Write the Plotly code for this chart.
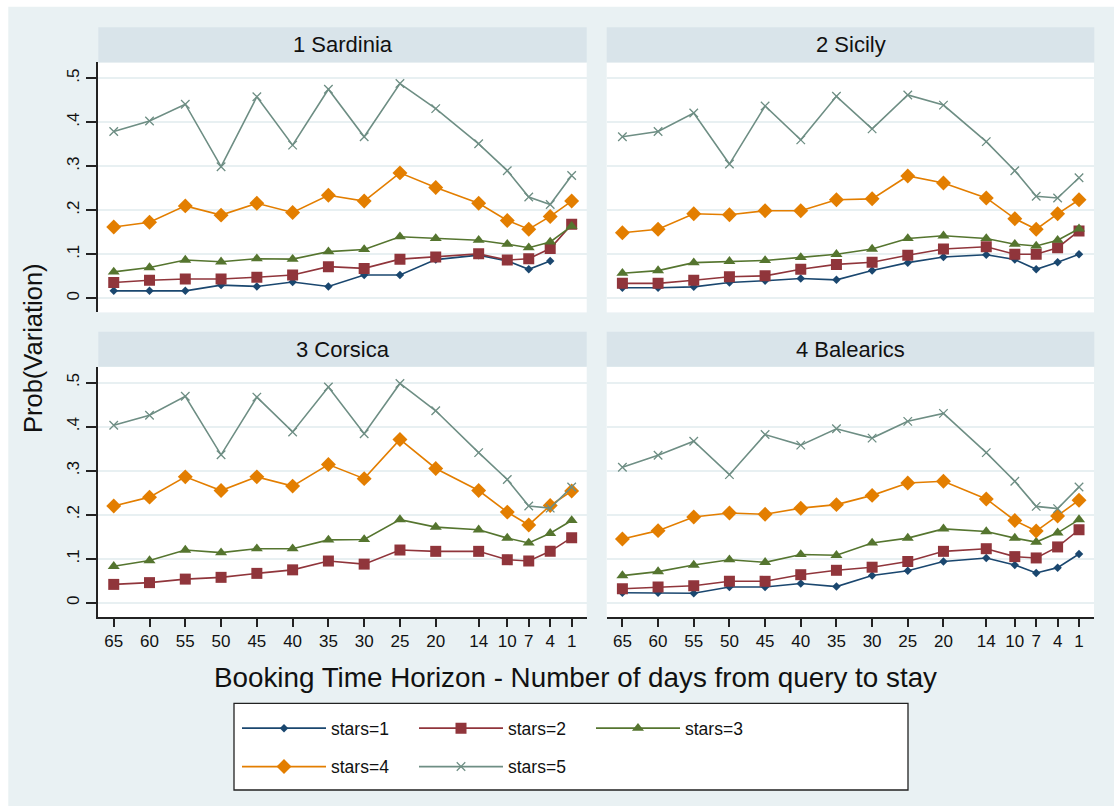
import plotly.graph_objects as go

# Booking horizon (days from query to stay) and panel titles
days = [65, 60, 55, 50, 45, 40, 35, 30, 25, 20, 14, 10, 7, 4, 1]
regions = ["1 Sardinia", "2 Sicily", "3 Corsica", "4 Balearics"]
star_labels = ["stars=1", "stars=2", "stars=3", "stars=4", "stars=5"]

# Predicted probability of a price variation, by star rating
sardinia_s1 = [0.017, 0.017, 0.017, 0.030, 0.027, 0.037, 0.027, 0.053, 0.053, 0.088, 0.098, 0.085, 0.066, 0.085, None]
sardinia_s2 = [0.036, 0.041, 0.044, 0.044, 0.048, 0.053, 0.072, 0.068, 0.089, 0.094, 0.101, 0.087, 0.090, 0.113, 0.168]
sardinia_s3 = [0.060, 0.070, 0.087, 0.083, 0.090, 0.089, 0.106, 0.111, 0.140, 0.136, 0.132, 0.123, 0.115, 0.128, 0.164]
sardinia_s4 = [0.162, 0.173, 0.210, 0.189, 0.216, 0.195, 0.234, 0.221, 0.285, 0.252, 0.216, 0.177, 0.157, 0.186, 0.221]
sardinia_s5 = [0.379, 0.403, 0.441, 0.299, 0.458, 0.348, 0.475, 0.367, 0.488, 0.431, 0.351, 0.290, 0.230, 0.213, 0.279]

sicily_s1 = [0.024, 0.024, 0.026, 0.036, 0.040, 0.045, 0.042, 0.063, 0.081, 0.094, 0.099, 0.088, 0.066, 0.082, 0.100]
sicily_s2 = [0.034, 0.034, 0.041, 0.049, 0.051, 0.066, 0.077, 0.082, 0.098, 0.112, 0.117, 0.100, 0.100, 0.115, 0.153]
sicily_s3 = [0.057, 0.063, 0.081, 0.084, 0.086, 0.093, 0.100, 0.112, 0.136, 0.142, 0.136, 0.123, 0.119, 0.132, 0.158]
sicily_s4 = [0.149, 0.157, 0.192, 0.190, 0.199, 0.199, 0.224, 0.226, 0.278, 0.262, 0.228, 0.181, 0.157, 0.192, 0.224]
sicily_s5 = [0.367, 0.379, 0.421, 0.305, 0.437, 0.360, 0.459, 0.385, 0.462, 0.439, 0.356, 0.290, 0.232, 0.228, 0.274]

corsica_s1 = None  # no 1-star observations
corsica_s2 = [0.042, 0.046, 0.054, 0.058, 0.067, 0.075, 0.095, 0.088, 0.120, 0.117, 0.117, 0.098, 0.095, 0.117, 0.148]
corsica_s3 = [0.083, 0.096, 0.120, 0.114, 0.123, 0.123, 0.143, 0.144, 0.189, 0.172, 0.166, 0.147, 0.136, 0.158, 0.187]
corsica_s4 = [0.220, 0.240, 0.286, 0.255, 0.286, 0.265, 0.314, 0.282, 0.371, 0.305, 0.255, 0.206, 0.177, 0.221, 0.254]
corsica_s5 = [0.403, 0.426, 0.469, 0.336, 0.467, 0.388, 0.490, 0.384, 0.498, 0.436, 0.341, 0.280, 0.220, 0.215, 0.263]

balearics_s1 = [0.023, 0.023, 0.022, 0.036, 0.036, 0.044, 0.037, 0.062, 0.073, 0.094, 0.102, 0.086, 0.068, 0.080, 0.111]
balearics_s2 = [0.032, 0.036, 0.039, 0.049, 0.049, 0.064, 0.074, 0.081, 0.094, 0.117, 0.123, 0.105, 0.102, 0.127, 0.166]
balearics_s3 = [0.062, 0.071, 0.086, 0.098, 0.092, 0.110, 0.108, 0.136, 0.147, 0.168, 0.162, 0.147, 0.138, 0.159, 0.189]
balearics_s4 = [0.145, 0.164, 0.195, 0.204, 0.201, 0.215, 0.223, 0.244, 0.272, 0.276, 0.236, 0.187, 0.163, 0.197, 0.233]
balearics_s5 = [0.308, 0.335, 0.367, 0.291, 0.382, 0.358, 0.395, 0.374, 0.412, 0.430, 0.341, 0.276, 0.219, 0.214, 0.263]

y_ticks = [0, 0.1, 0.2, 0.3, 0.4, 0.5]
y_ticktext = ["0", ".1", ".2", ".3", ".4", ".5"]

panels = [
    [sardinia_s1, sardinia_s2, sardinia_s3, sardinia_s4, sardinia_s5],
    [sicily_s1, sicily_s2, sicily_s3, sicily_s4, sicily_s5],
    [corsica_s1, corsica_s2, corsica_s3, corsica_s4, corsica_s5],
    [balearics_s1, balearics_s2, balearics_s3, balearics_s4, balearics_s5],
]

# Series styles (Stata s2color palette)
colors = ["#1a476f", "#90353b", "#55752f", "#e37e00", "#6e8e84"]
symbols = ["diamond", "square", "triangle-up", "diamond", "x-thin"]
sizes = [6.5, 11, 10.5, 11.5, 8.5]

FONT = "Arial, 'Liberation Sans', sans-serif"
W, H = 1114, 806
ML, MR, MT, MB = 98, 20, 27, 189
PW = W - ML - MR
PH = H - MT - MB


def fx(px):
    return (px - ML) / PW


def fy(py):
    return (H - MB - py) / PH


col_dom = [[0.0, fx(586.7)], [fx(606.7), 1.0]]
row_dom = [[fy(312.4), fy(62.4)], [0.0, fy(366.7)]]
header_top = [27.3, 331.7]
header_bot = [62.4, 366.7]
col_px = [(98.3, 586.7), (606.7, 1094.3)]

fig = go.Figure()

for p, series in enumerate(panels):
    ax = "" if p == 0 else str(p + 1)
    for s, vals in enumerate(series):
        if vals is None:
            continue
        marker = dict(symbol=symbols[s], size=sizes[s], color=colors[s])
        if symbols[s] == "x-thin":
            marker["line"] = dict(color=colors[s], width=1.3)
        fig.add_trace(go.Scatter(
            x=days, y=vals, mode="lines+markers",
            line=dict(color=colors[s], width=1.6),
            marker=marker,
            name=star_labels[s],
            legendgroup=star_labels[s],
            showlegend=(p == 0),
            legend="legend" if s < 3 else "legend2",
            xaxis="x" + ax, yaxis="y" + ax,
            connectgaps=False,
        ))

layout = dict(
    width=W, height=H,
    margin=dict(l=ML, r=MR, t=MT, b=MB, pad=0),
    paper_bgcolor="#e9f1f3",
    plot_bgcolor="white",
    font=dict(family=FONT, color="#111111", size=17),
)

for p in range(4):
    r, c = divmod(p, 2)
    ax = "" if p == 0 else str(p + 1)
    bottom = (r == 1)
    left = (c == 0)
    layout["xaxis" + ax] = dict(
        domain=col_dom[c], anchor="y" + ax,
        range=[67.2, -1.1], autorange=False,
        tickvals=days, ticktext=[str(d) for d in days],
        showticklabels=bottom, ticks="outside" if bottom else "",
        ticklen=8, tickwidth=1.5, tickcolor="#222222",
        showline=bottom, linecolor="#222222", linewidth=1.5,
        showgrid=False, zeroline=False,
        tickfont=dict(size=17, color="#111111"),
    )
    layout["yaxis" + ax] = dict(
        domain=row_dom[r], anchor="x" + ax,
        range=[-0.032, 0.536], autorange=False,
        tickvals=y_ticks, ticktext=y_ticktext,
        showticklabels=left, ticks="outside" if left else "",
        ticklen=10, tickwidth=1.5, tickcolor="#222222",
        tickangle=-90,
        showline=left, linecolor="#222222", linewidth=1.5,
        showgrid=True, gridcolor="#e8f0f2", gridwidth=1.5,
        zeroline=False,
        tickfont=dict(size=17, color="#111111"),
    )

shapes = [
    # white edge along the top and left of the canvas
    dict(type="rect", xref="paper", yref="paper", x0=fx(0), x1=fx(W), y0=fy(6.7), y1=fy(0),
         fillcolor="white", line=dict(width=0), layer="below"),
    dict(type="rect", xref="paper", yref="paper", x0=fx(0), x1=fx(8.3), y0=fy(H), y1=fy(0),
         fillcolor="white", line=dict(width=0), layer="below"),
    # legend frame
    dict(type="rect", xref="paper", yref="paper", x0=fx(234), x1=fx(908), y0=fy(790), y1=fy(703.3),
         fillcolor="white", line=dict(color="#222222", width=1.3), layer="below"),
]
annotations = []
for p in range(4):
    r, c = divmod(p, 2)
    x0, x1 = col_px[c]
    shapes.append(dict(type="rect", xref="paper", yref="paper",
                       x0=fx(x0), x1=fx(x1), y0=fy(header_bot[r]), y1=fy(header_top[r]),
                       fillcolor="#d9e4ea", line=dict(width=0), layer="below"))
    annotations.append(dict(text=regions[p], xref="paper", yref="paper",
                            x=fx((x0 + x1) / 2), y=fy((header_top[r] + header_bot[r]) / 2),
                            xanchor="center", yanchor="middle", showarrow=False,
                            font=dict(size=22, color="#111111")))

annotations.append(dict(text="Prob(Variation)", xref="paper", yref="paper",
                        x=fx(33), y=fy(348), textangle=-90, showarrow=False,
                        xanchor="center", yanchor="middle", font=dict(size=25.5, color="#111111")))
annotations.append(dict(text="Booking Time Horizon - Number of days from query to stay",
                        xref="paper", yref="paper", x=fx(575.5), y=fy(677),
                        showarrow=False, xanchor="center", yanchor="middle",
                        font=dict(size=27.8, color="#111111")))

legend_common = dict(
    orientation="h", xref="paper", yref="paper", xanchor="left", yanchor="middle",
    bgcolor="rgba(0,0,0,0)", borderwidth=0, itemwidth=84,
    entrywidth=78, entrywidthmode="pixels",
    font=dict(size=17.5, color="#111111"), itemclick=False, itemdoubleclick=False,
)
layout["legend"] = dict(legend_common, x=fx(237), y=fy(728.3))
layout["legend2"] = dict(legend_common, x=fx(237), y=fy(766.7))
layout["shapes"] = shapes
layout["annotations"] = annotations

fig.update_layout(**layout)
fig.write_html("out.html")
